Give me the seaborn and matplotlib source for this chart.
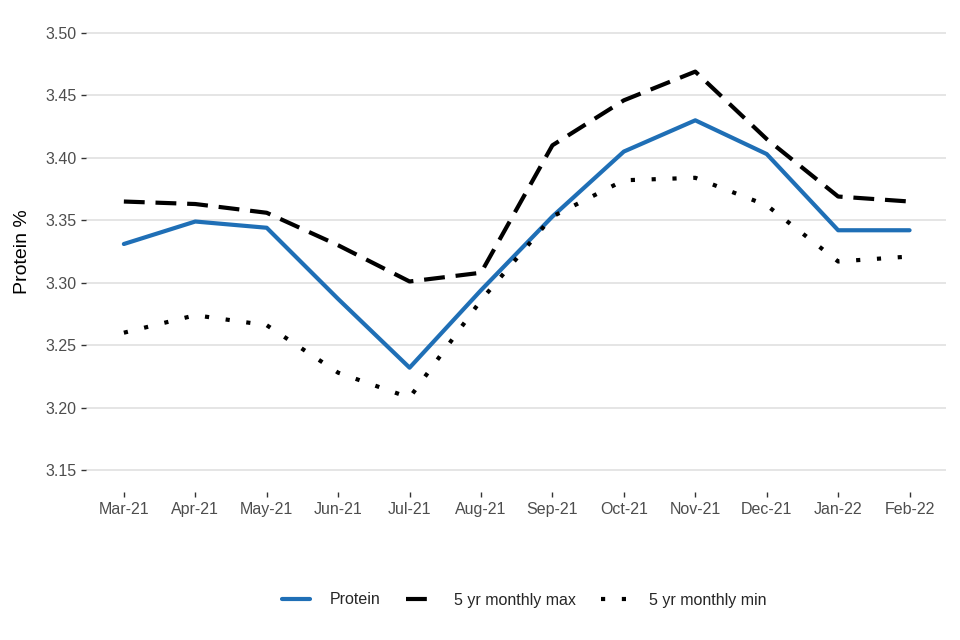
import numpy as np
import pandas as pd
import matplotlib
matplotlib.use("Agg")
import matplotlib.pyplot as plt
import seaborn as sns

months = ["Mar-21", "Apr-21", "May-21", "Jun-21", "Jul-21", "Aug-21",
          "Sep-21", "Oct-21", "Nov-21", "Dec-21", "Jan-22", "Feb-22"]
protein = [3.331, 3.349, 3.344, 3.287, 3.232, 3.294,
           3.353, 3.405, 3.430, 3.403, 3.342, 3.342]
max_5yr = [3.365, 3.363, 3.356, 3.330, 3.301, 3.308,
           3.410, 3.446, 3.469, 3.415, 3.369, 3.365]
min_5yr = [3.260, 3.274, 3.266, 3.228, 3.208, 3.286,
           3.353, 3.382, 3.384, 3.362, 3.317, 3.321]
y_ticks = [3.15, 3.20, 3.25, 3.30, 3.35, 3.40, 3.45, 3.50]

sns.set_style("white")
plt.rcParams["font.family"] = ["Liberation Sans", "DejaVu Sans"]

df = pd.DataFrame({"month": months, "Protein": protein,
                   "5 yr monthly max": max_5yr, "5 yr monthly min": min_5yr})

fig = plt.figure(figsize=(9.6, 6.4), dpi=100)
ax = fig.add_axes([86 / 960, (640 - 492) / 640, (946 - 86) / 960, (492 - 11) / 640])

sns.lineplot(data=df, x="month", y="Protein", ax=ax, color="#1f6fb6",
             linewidth=3, label="Protein", sort=False)
sns.lineplot(data=df, x="month", y="5 yr monthly max", ax=ax, color="black",
             linewidth=3, linestyle=(0, (5, 2.6)), label="5 yr monthly max", sort=False)
sns.lineplot(data=df, x="month", y="5 yr monthly min", ax=ax, color="black",
             linewidth=3, linestyle=(0, (1, 4)), dash_capstyle="butt",
             label="5 yr monthly min", sort=False)

ax.set_xlim(-0.53, 11.51)
ax.set_ylim(3.1325, 3.5175)
ax.set_yticks(y_ticks)
ax.set_yticklabels([f"{v:.2f}" for v in y_ticks])
ax.yaxis.grid(True, color="#e3e3e3", linewidth=1.3)
ax.xaxis.grid(False)
for s in ax.spines.values():
    s.set_visible(False)
ax.tick_params(axis="both", which="both", length=3.5, width=1, color="#333333",
               labelcolor="#4d4d4d", labelsize=11.5, pad=3.5, left=True, bottom=True)
ax.set_xlabel("")
ax.set_ylabel("Protein %", fontsize=14, color="black", labelpad=10)

ax.get_legend().remove()
handles, labels = ax.get_legend_handles_labels()
fig.legend(handles, labels, loc="center", bbox_to_anchor=(0.546, 0.0625), ncol=3,
           frameon=False, fontsize=11.5, handlelength=1.8, columnspacing=1.6,
           handletextpad=1.2)

fig.savefig("out.png", dpi=100)
